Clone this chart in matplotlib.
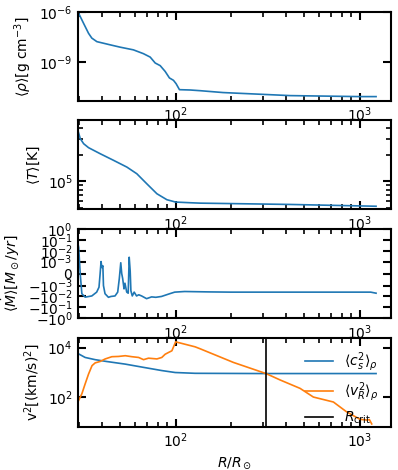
import numpy as np
import matplotlib.pyplot as plt
from matplotlib.ticker import FixedLocator, NullLocator

# density profile
r_rho = [29.4, 31.6, 33.6, 35.0, 37.3, 44.1, 49.9, 58.9, 66.8, 72.7, 77.4, 82.4,
         87.7, 92.5, 97.3, 100.6, 104.9, 120, 136, 181, 419, 1000, 1230]
rho = [1e-6, 2.0e-7, 5.2e-8, 2.7e-8, 1.66e-8, 1.07e-8, 7.8e-9, 5.4e-9, 3.2e-9,
       2.0e-9, 8.9e-10, 6.2e-10, 2.8e-10, 1.15e-10, 8.3e-11, 5.2e-11, 2.3e-11,
       2.2e-11, 2.0e-11, 1.55e-11, 1.02e-11, 8.9e-12, 8.9e-12]

# temperature profile
r_T = [29.4, 30.3, 31.6, 33.6, 38.9, 45.9, 54.3, 61.5, 69.7, 79.1, 89.6, 100,
       120, 136, 419, 1230]
T = [3.76e5, 3.03e5, 2.66e5, 2.40e5, 2.05e5, 1.73e5, 1.45e5, 1.22e5, 9.4e4,
     7.26e4, 6.22e4, 5.85e4, 5.75e4, 5.69e4, 5.5e4, 5.25e4]

# mass flux
r_mdot = [29.4, 29.7, 30.3, 30.9, 32.2, 35.0, 37.2, 38.3, 38.8, 39.3, 39.7, 40.2,
          40.5, 41.3, 43.1, 44.5, 46.8, 48.4, 49.4, 50.3, 50.9, 51.5, 52.4, 53.0,
          54.2, 55.2, 55.9, 56.6, 57.1, 58.1, 59.5, 61.3, 63.0, 65.3, 69.5, 74.0,
          78.0, 83.8, 92.8, 98.8, 111.9, 150, 200, 400, 800, 1150, 1230]
mdot = [0.05, 0.02, -1e-4, -5.6e-3, -1.16e-2, -9e-3, -4e-3, -1.4e-3, -1e-4,
        1e-3, 5e-4, 6.5e-4, -1e-3, -5.6e-3, -1.2e-2, -1.0e-2, -9e-3, -4e-3,
        -4e-4, 9e-4, 0, -4e-4, -2e-3, -8e-4, -4e-3, -5e-3, 2.5e-3, 2e-4, -3e-3,
        -9e-3, -4e-3, -9e-3, -7e-3, -9e-3, -1.6e-2, -1.1e-2, -1.2e-2, -1e-2,
        -5.6e-3, -4e-3, -3.5e-3, -3.8e-3, -4e-3, -4e-3, -4e-3, -4e-3, -5e-3]

# velocities
r_cs = [29.4, 32.2, 36.5, 41.9, 53.2, 66.8, 84.1, 99.4, 127.6, 300, 1230]
cs2 = [5750, 3980, 3240, 2750, 2140, 1585, 1175, 980, 910, 890, 890]

r_vr = [29.4, 30.9, 32.2, 33.6, 35.1, 36.5, 38.9, 41.4, 45.0, 48.9, 53.2, 57.8,
        62.9, 66.9, 71.2, 79.1, 84.1, 87.7, 91.4, 95.4, 100, 127.6, 136, 206,
        310, 370, 475, 561, 721, 852, 1006, 1103, 1131, 1165]
vr2 = [63, 135, 340, 850, 1860, 2400, 2750, 3470, 4270, 4370, 4680, 4270, 3980,
       3240, 3720, 3470, 3980, 5370, 6310, 7410, 17000, 10700, 8900, 2510, 890,
       490, 224, 100, 63, 25, 12.6, 11.7, 12.3, 8.2]

r_crit = 310

plt.rcParams['axes.linewidth'] = 1.5

fig, axes = plt.subplots(4, 1, figsize=(3.98, 4.70), dpi=100)
fig.subplots_adjust(left=0.195, right=0.982, top=0.975, bottom=0.092, hspace=0.22)

lw = 1.2
axes[0].plot(r_rho, rho, color='C0', lw=lw)
axes[1].plot(r_T, T, color='C0', lw=lw)
axes[2].plot(r_mdot, mdot, color='C0', lw=lw)
axes[3].plot(r_cs, cs2, color='C0', lw=lw, label=r'$\langle c_s^2\rangle_\rho$')
axes[3].plot(r_vr, vr2, color='C1', lw=lw, label=r'$\langle v_R^2\rangle_\rho$')
axes[3].axvline(r_crit, color='k', lw=lw, label=r'$R_{\rm crit}$')

for ax in axes:
    ax.set_xscale('log')
    ax.set_xlim(29.3, 1480)
    ax.tick_params(which='both', direction='in', top=True, right=True)
    ax.tick_params(which='major', length=6, width=1.5)
    ax.tick_params(which='minor', length=3.5, width=1.2)

axes[0].set_yscale('log')
axes[0].set_ylim(5e-12, 1e-6)
axes[0].yaxis.set_major_locator(FixedLocator([1e-9, 1e-6]))
axes[0].yaxis.set_minor_locator(NullLocator())
axes[0].set_ylabel(r'$\langle \rho \rangle [\rm g\ cm^{-3}]$')

axes[1].set_yscale('log')
axes[1].set_ylim(4.83e4, 4.87e5)
axes[1].set_ylabel(r'$\langle T \rangle [\rm K]$')

axes[2].set_yscale('symlog', linthresh=1e-3)
axes[2].set_ylim(-1, 1)
axes[2].yaxis.set_major_locator(FixedLocator([-1, -0.1, -0.01, -0.001, 0, 0.001, 0.01, 0.1, 1]))
axes[2].yaxis.set_minor_locator(NullLocator())
axes[2].set_ylabel(r'$\langle \dot{M} \rangle [M_\odot/yr]$')

axes[3].set_yscale('log')
axes[3].set_ylim(6.3, 2.5e4)
axes[3].yaxis.set_major_locator(FixedLocator([1e2, 1e4]))
axes[3].yaxis.set_minor_locator(NullLocator())
axes[3].set_ylabel(r'v$^2$[(km/s)$^2$]')
axes[3].set_xlabel(r'$R/R_\odot$')
axes[3].legend(loc='upper right', frameon=False)

fig.savefig('out.png')
